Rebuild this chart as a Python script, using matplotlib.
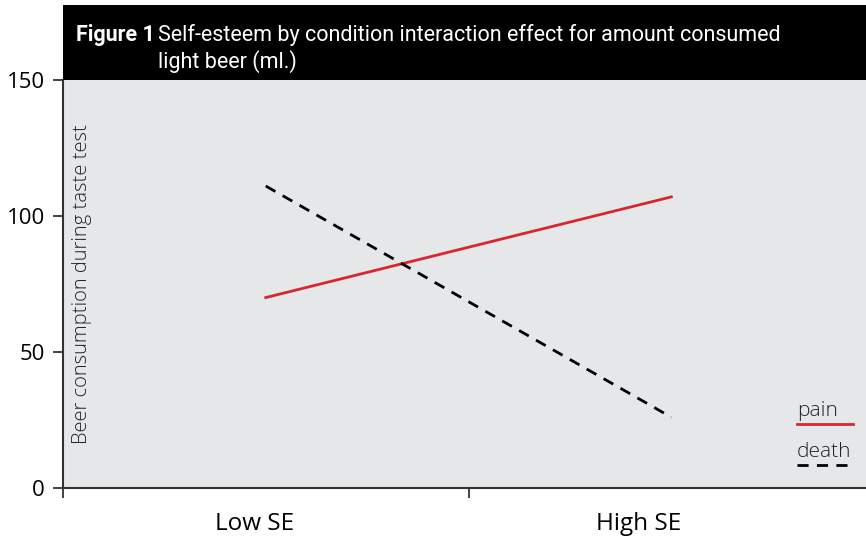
import matplotlib.pyplot as plt
from matplotlib.patches import Rectangle

plt.rcParams['font.family'] = ['Open Sans', 'DejaVu Sans']

categories = ['Low SE', 'High SE']
pain = [70, 107]
death = [111, 26]
yticks = [0, 50, 100, 150]

fig = plt.figure(figsize=(8.66, 5.4), dpi=100)
ax = fig.add_axes([0.0727, 0.0963, 0.9273, 0.7557])
ax.set_facecolor('#e6e7e9')

xpos = [0.5, 1.5]
ax.plot(xpos, pain, color='#d9262e', lw=2, label='pain')
ax.plot(xpos, death, color='black', lw=2, ls=(0, (4, 3)), label='death')

ax.set_xlim(0, 1.98)
ax.set_ylim(0, 150)
ax.set_yticks(yticks)
ax.set_xticks([0, 1])
ax.set_xticklabels(['', ''])
ax.tick_params(axis='both', direction='out', length=7, width=1.3, color='#333333',
               labelsize=16, pad=6)
for lab_x, lab in zip([0.473, 1.42], categories):
    ax.text(lab_x, -9, lab, ha='center', va='top', fontsize=17.5)

for s in ['top', 'right']:
    ax.spines[s].set_visible(False)
for s in ['left', 'bottom']:
    ax.spines[s].set_color('#333333')
    ax.spines[s].set_linewidth(1.5)

ax.text(0.024, 0.5, 'Beer consumption during taste test', transform=ax.transAxes,
        rotation=90, ha='center', va='center', fontsize=14.5, fontweight='light',
        color='#222222')

# legend drawn by hand
ax.text(1.81, 24.5, 'pain', fontsize=15, fontweight='light', color='#222222', va='bottom')
ax.plot([1.81, 1.948], [23.5, 23.5], color='#d9262e', lw=2, clip_on=False)
ax.text(1.81, 9.5, 'death', fontsize=15, fontweight='light', color='#222222', va='bottom')
ax.plot([1.81, 1.948], [8.5, 8.5], color='black', lw=2, ls=(0, (4, 3)), clip_on=False)

# black title box
fig.patches.append(Rectangle((0.0727, 0.852), 0.9273, 0.139, transform=fig.transFigure,
                             facecolor='black', edgecolor='none'))
fig.text(0.088, 0.936, 'Figure 1', color='white', fontsize=15.5, fontweight='bold',
         va='center', family='Roboto')
fig.text(0.183, 0.936, 'Self-esteem by condition interaction effect for amount consumed',
         color='white', fontsize=15.5, va='center', family='Roboto')
fig.text(0.183, 0.886, 'light beer (ml.)', color='white', fontsize=15.5, va='center',
         family='Roboto')

fig.savefig('out.png', dpi=100)
